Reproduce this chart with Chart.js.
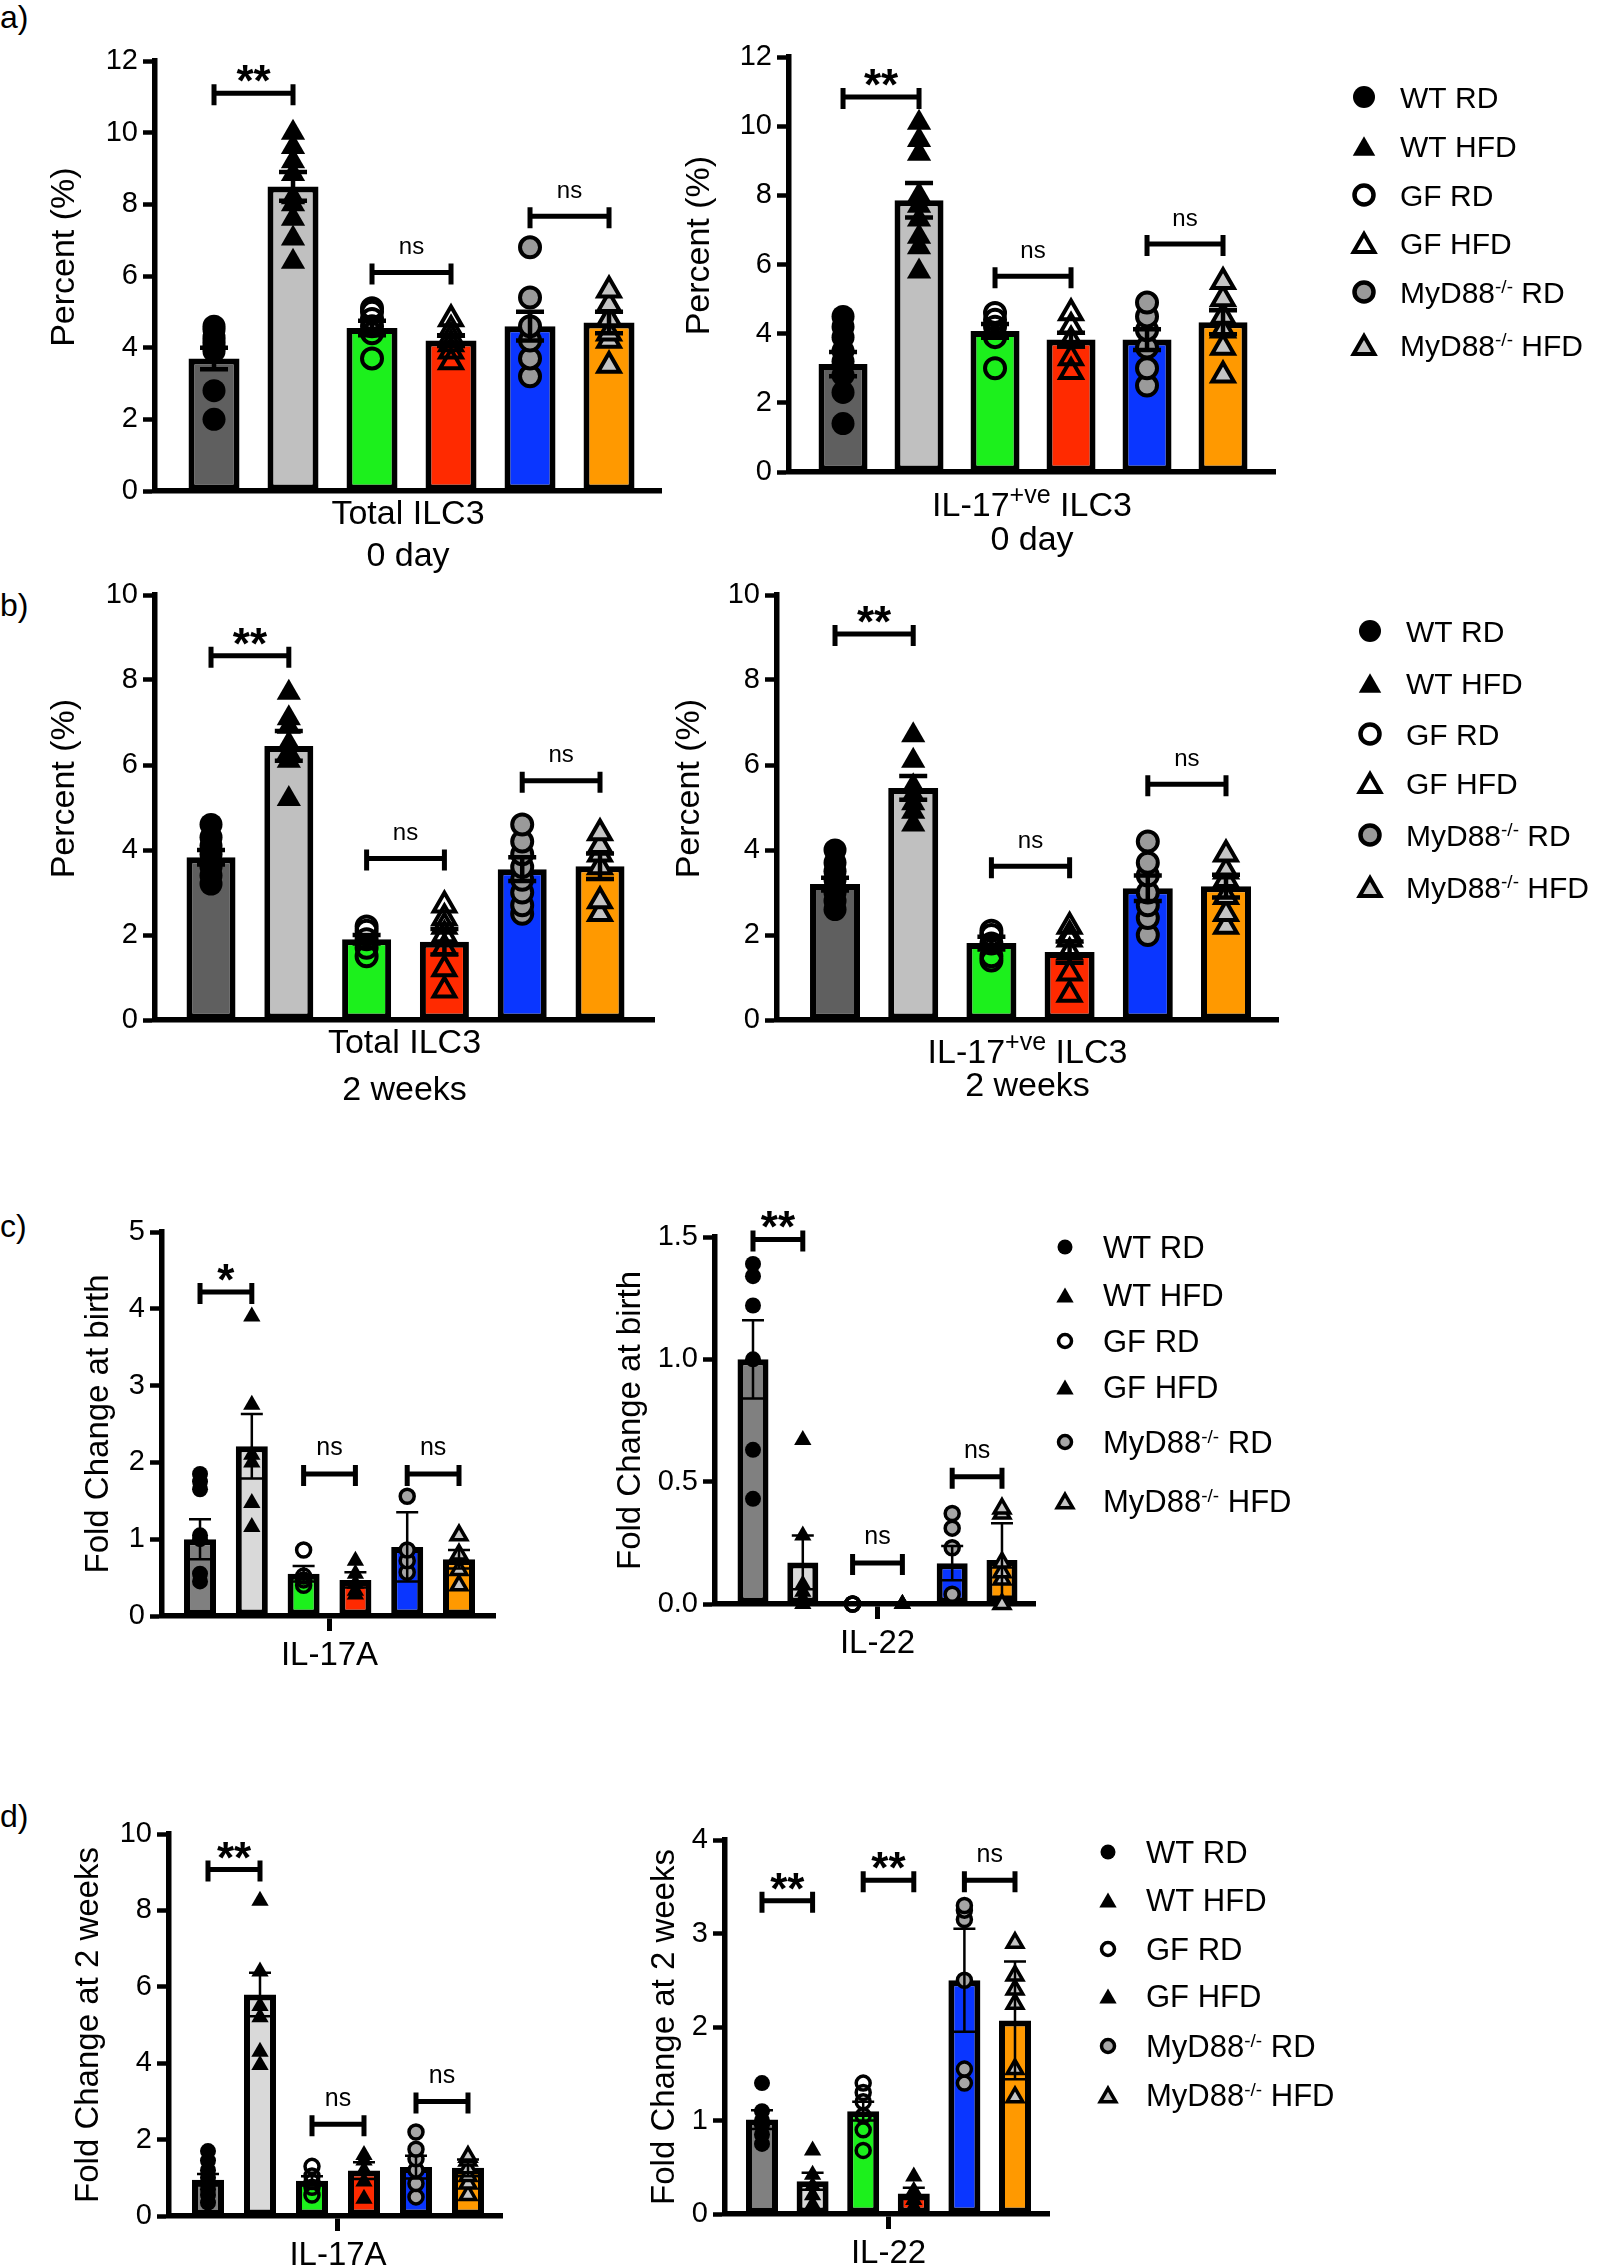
<!DOCTYPE html>
<html><head><meta charset="utf-8">
<script src="https://cdn.jsdelivr.net/npm/chart.js@4/dist/chart.umd.min.js"></script>
<style>
html,body{margin:0;padding:0;background:#fff;}
body{position:relative;width:1597px;height:2268px;overflow:hidden;font-family:'Liberation Sans',Arial,Helvetica,sans-serif;}
canvas{position:absolute;}
.pl{position:absolute;left:0;font-size:32px;line-height:32px;color:#000;}
</style></head><body>
<div class="pl" style="top:1px">a)</div>
<div class="pl" style="top:589px">b)</div>
<div class="pl" style="top:1210px">c)</div>
<div class="pl" style="top:1800px">d)</div>
<canvas id="a1"></canvas><canvas id="a2"></canvas>
<canvas id="b1"></canvas><canvas id="b2"></canvas>
<canvas id="c1"></canvas><canvas id="c2"></canvas>
<canvas id="d1"></canvas><canvas id="d2"></canvas>
<script>
// ---------------- DATA ----------------
const groups = ['WT RD', 'WT HFD', 'GF RD', 'GF HFD', 'MyD88-/- RD', 'MyD88-/- HFD'];
const legendParts = [['WT RD'], ['WT HFD'], ['GF RD'], ['GF HFD'], ['MyD88', '-/-', ' RD'], ['MyD88', '-/-', ' HFD']];

// a) 0 day
const a1Means = [3.7, 8.5, 4.55, 4.2, 4.6, 4.7];
const a1Sem = [0.3, 0.4, 0.2, 0.15, 0.4, 0.3];
const a1Points = [
  [2.0, 2.8, 3.9, 4.0, 4.1, 4.2, 4.3, 4.5, 4.6],
  [6.4, 7.05, 7.6, 8.0, 8.2, 8.85, 9.2, 9.6, 10.0],
  [3.7, 4.4, 4.6, 4.8, 5.0, 5.1],
  [3.6, 3.9, 4.1, 4.3, 4.5, 4.8],
  [3.2, 3.7, 4.2, 4.6, 5.4, 6.8],
  [3.5, 4.2, 4.4, 4.8, 5.2, 5.6]];
const a1Sig = [[0, 1, 11.1, '**'], [2, 3, 6.1, 'ns'], [4, 5, 7.67, 'ns']];
const a1XTitle = ['Total ILC3', '0 day'];

const a2Means = [3.12, 7.86, 4.08, 3.83, 3.83, 4.33];
const a2Sem = [0.35, 0.5, 0.2, 0.2, 0.3, 0.35];
const a2Points = [
  [1.4, 2.3, 2.8, 3.2, 3.5, 3.9, 4.2, 4.5],
  [5.8, 6.5, 6.8, 7.3, 7.7, 8.0, 9.2, 9.6, 10.1],
  [3.0, 3.9, 4.2, 4.4, 4.6],
  [2.9, 3.3, 3.8, 4.2, 4.6],
  [2.5, 3.0, 3.6, 4.1, 4.5, 4.9],
  [2.8, 3.6, 4.1, 4.5, 5.0, 5.5]];
const a2Sig = [[0, 1, 10.84, '**'], [2, 3, 5.66, 'ns'], [4, 5, 6.59, 'ns']];
const a2XTitle = [['IL-17', '+ve', ' ILC3'], ['0 day']];

// b) 2 weeks
const b1Means = [3.83, 6.45, 1.9, 1.84, 3.55, 3.62];
const b1Sem = [0.17, 0.35, 0.1, 0.3, 0.28, 0.3];
const b1Points = [
  [3.2, 3.4, 3.6, 3.7, 3.9, 4.1, 4.3, 4.6],
  [5.2, 6.1, 6.3, 6.5, 6.9, 7.1, 7.7],
  [1.5, 1.7, 1.9, 2.1, 2.2],
  [0.7, 1.2, 1.7, 2.0, 2.2, 2.4, 2.7],
  [2.5, 2.7, 3.0, 3.3, 3.6, 3.9, 4.2, 4.6],
  [2.5, 2.8, 3.6, 3.9, 4.1, 4.4]];
const b1Sig = [[0, 1, 8.57, '**'], [2, 3, 3.8, 'ns'], [4, 5, 5.63, 'ns']];
const b1XTitle = ['Total ILC3', '2 weeks'];

const b2Means = [3.2, 5.46, 1.81, 1.6, 3.1, 3.15];
const b2Sem = [0.15, 0.28, 0.15, 0.25, 0.3, 0.27];
const b2Points = [
  [2.6, 2.8, 3.0, 3.1, 3.3, 3.5, 3.7, 4.0],
  [4.6, 4.9, 5.1, 5.3, 5.5, 6.1, 6.7],
  [1.4, 1.5, 1.8, 2.0, 2.1],
  [0.6, 1.1, 1.6, 1.9, 2.0, 2.2],
  [2.0, 2.4, 2.7, 3.0, 3.4, 3.7, 4.2],
  [2.2, 2.5, 2.9, 3.3, 3.5, 3.9]];
const b2Sig = [[0, 1, 9.08, '**'], [2, 3, 3.62, 'ns'], [4, 5, 5.55, 'ns']];
const b2XTitle = [['IL-17', '+ve', ' ILC3'], ['2 weeks']];

// c) fold change at birth
const c1Means = [1.0, 2.21, 0.55, 0.47, 0.9, 0.74];
const c1Sem = [0.26, 0.42, 0.1, 0.1, 0.45, 0.12];
const c1Points = [
  [0.45, 0.55, 1.0, 1.05, 1.65, 1.75, 1.85],
  [1.16, 1.47, 2.0, 2.1, 2.75, 3.9],
  [0.4, 0.47, 0.52, 0.86],
  [0.28, 0.33, 0.42, 0.55, 0.72],
  [0.57, 0.72, 0.86, 1.56],
  [0.4, 0.6, 0.8, 1.05]];
const c1Sig = [[0, 1, 4.22, '*'], [2, 3, 1.85, 'ns'], [4, 5, 1.85, 'ns']];
const c1XTick = 'IL-17A';

const c2Means = [1.0, 0.17, 0.0, 0.0, 0.167, 0.18];
const c2Sem = [0.16, 0.11, 0, 0, 0.07, 0.15];
const c2Points = [
  [0.43, 0.63, 1.0, 1.22, 1.34, 1.39],
  [0.0, 0.02, 0.05, 0.08, 0.28, 0.67],
  [0.0, 0.0, 0.0],
  [0.0, 0.0, 0.0],
  [0.04, 0.23, 0.31, 0.37],
  [0.0, 0.1, 0.13, 0.17, 0.37, 0.39]];
const c2Sig = [[0, 1, 1.49, '**'], [2, 3, 0.168, 'ns'], [4, 5, 0.52, 'ns']];
const c2XTick = 'IL-22';

// d) fold change at 2 weeks
const d1Means = [0.95, 5.8, 0.92, 1.19, 1.28, 1.26];
const d1Sem = [0.15, 0.57, 0.12, 0.22, 0.3, 0.22];
const d1Points = [
  [0.35, 0.55, 0.7, 0.85, 1.0, 1.2, 1.45, 1.7],
  [3.95, 4.3, 5.2, 5.5, 6.4, 8.25],
  [0.55, 0.75, 0.9, 1.05, 1.3],
  [0.45, 0.9, 1.2, 1.45, 1.6],
  [0.5, 0.85, 1.2, 1.5, 1.75, 2.2],
  [0.55, 0.85, 1.05, 1.25, 1.45, 1.55]];
const d1Sig = [[0, 1, 9.07, '**'], [2, 3, 2.4, 'ns'], [4, 5, 3.0, 'ns']];
const d1XTick = 'IL-17A';

const d2Means = [1.01, 0.35, 1.1, 0.22, 2.5, 2.07];
const d2Sem = [0.1, 0.09, 0.1, 0.06, 0.55, 0.63];
const d2Points = [
  [0.75, 0.85, 0.95, 1.0, 1.1, 1.4],
  [0.1, 0.2, 0.3, 0.42, 0.68],
  [0.68, 0.9, 1.05, 1.2, 1.3, 1.4],
  [0.08, 0.15, 0.25, 0.4],
  [1.4, 1.55, 2.5, 3.15, 3.25, 3.3],
  [1.25, 1.55, 2.25, 2.4, 2.55, 2.9]];
const d2Sig = [[0, 1, 3.35, '**'], [2, 3, 3.57, '**'], [4, 5, 3.57, 'ns']];
const d2XTick = 'IL-22';

// ---------------- STYLES ----------------
const FF = "'Liberation Sans', Arial, Helvetica, sans-serif";
Chart.defaults.font.family = FF;
Chart.defaults.color = '#000';

const colorsAB = ['#5f5f5f', '#c0c0c0', '#1cf01c', '#ff2a00', '#0a36ff', '#ff9900'];
const colorsCD = ['#808080', '#d9d9d9', '#1cf01c', '#ff2a00', '#0a36ff', '#ff9900'];
const NONE = 'rgba(0,0,0,0)';
const ptsAB = [
  {shape: 'circle', r: 11.5, fill: '#000', stroke: '#000', bw: 0},
  {shape: 'triangle', r: 14, fill: '#000', stroke: '#000', bw: 0},
  {shape: 'circle', r: 10, fill: NONE, stroke: '#000', bw: 4},
  {shape: 'triangle', r: 12.5, fill: NONE, stroke: '#000', bw: 4},
  {shape: 'circle', r: 10, fill: '#9a9a9a', stroke: '#000', bw: 4},
  {shape: 'triangle', r: 12.5, fill: '#c4c4c4', stroke: '#000', bw: 4}];
const ptsCD = [
  {shape: 'circle', r: 8, fill: '#000', stroke: '#000', bw: 0},
  {shape: 'triangle', r: 10, fill: '#000', stroke: '#000', bw: 0},
  {shape: 'circle', r: 7, fill: NONE, stroke: '#000', bw: 3.5},
  {shape: 'triangle', r: 10, fill: '#000', stroke: '#000', bw: 0},
  {shape: 'circle', r: 7, fill: '#a6a6a6', stroke: '#000', bw: 3.5},
  {shape: 'triangle', r: 9, fill: '#c4c4c4', stroke: '#000', bw: 3.5}];
const legAB = [
  {shape: 'circle', r: 11, fill: '#000', stroke: '#000', bw: 0},
  {shape: 'triangle', r: 13, fill: '#000', stroke: '#000', bw: 0},
  {shape: 'circle', r: 9.5, fill: NONE, stroke: '#000', bw: 4.5},
  {shape: 'triangle', r: 12, fill: NONE, stroke: '#000', bw: 4},
  {shape: 'circle', r: 9.5, fill: '#9a9a9a', stroke: '#000', bw: 4.5},
  {shape: 'triangle', r: 12, fill: '#c4c4c4', stroke: '#000', bw: 4}];
const legCD = [
  {shape: 'circle', r: 7.5, fill: '#000', stroke: '#000', bw: 0},
  {shape: 'triangle', r: 10, fill: '#000', stroke: '#000', bw: 0},
  {shape: 'circle', r: 6.5, fill: NONE, stroke: '#000', bw: 3.5},
  {shape: 'triangle', r: 10, fill: '#000', stroke: '#000', bw: 0},
  {shape: 'circle', r: 6.5, fill: '#a6a6a6', stroke: '#000', bw: 3.5},
  {shape: 'triangle', r: 9, fill: '#c4c4c4', stroke: '#000', bw: 3.5}];

function drawMarker(ctx, st, x, y) {
  ctx.beginPath();
  if (st.shape === 'circle') {
    ctx.arc(x, y, st.r, 0, Math.PI * 2);
  } else {
    for (let k = 0; k < 3; k++) {
      const a = k * 2 * Math.PI / 3;
      const px = x + Math.sin(a) * st.r, py = y - Math.cos(a) * st.r;
      if (k) ctx.lineTo(px, py); else ctx.moveTo(px, py);
    }
    ctx.closePath();
  }
  ctx.fillStyle = st.fill; ctx.fill();
  if (st.bw) { ctx.lineWidth = st.bw; ctx.strokeStyle = st.stroke; ctx.stroke(); }
}

function drawParts(ctx, parts, x, baseY, size, supSize, rise, align) {
  const segs = parts.map((t, i) => {
    const sup = parts.length === 3 && i === 1;
    return {t, s: sup ? supSize : size, r: sup ? rise : 0};
  });
  let total = 0;
  segs.forEach(sg => { ctx.font = sg.s + 'px ' + FF; sg.w = ctx.measureText(sg.t).width; total += sg.w; });
  let cx = align === 'center' ? x - total / 2 : x;
  ctx.textAlign = 'left'; ctx.textBaseline = 'alphabetic'; ctx.fillStyle = '#000';
  segs.forEach(sg => { ctx.font = sg.s + 'px ' + FF; ctx.fillText(sg.t, cx, baseY - sg.r); cx += sg.w; });
}

const annot = {
  id: 'annot',
  afterDatasetsDraw(chart, args, o) {
    const ctx = chart.ctx, xs = chart.scales.x, ys = chart.scales.y;
    ctx.save();
    ctx.strokeStyle = '#000'; ctx.fillStyle = '#000'; ctx.lineCap = 'butt';
    o.means.forEach((m, i) => {
      const e = o.sem[i]; if (!e) return;
      const x = xs.getPixelForValue(i);
      const yHi = ys.getPixelForValue(m + e), yLo = ys.getPixelForValue(Math.max(0, m - e));
      ctx.lineWidth = o.errW;
      ctx.beginPath();
      ctx.moveTo(x, yHi); ctx.lineTo(x, yLo);
      ctx.moveTo(x - o.capW / 2, yHi); ctx.lineTo(x + o.capW / 2, yHi);
      if (m - e > 0) { ctx.moveTo(x - o.capW / 2, yLo); ctx.lineTo(x + o.capW / 2, yLo); }
      ctx.stroke();
    });
    o.sig.forEach(([a, b, v, t]) => {
      const xa = xs.getPixelForValue(a), xb = xs.getPixelForValue(b), y = ys.getPixelForValue(v);
      ctx.lineWidth = 5;
      ctx.beginPath();
      ctx.moveTo(xa, y); ctx.lineTo(xb, y);
      ctx.moveTo(xa, y - 9); ctx.lineTo(xa, y + 12);
      ctx.moveTo(xb, y - 9); ctx.lineTo(xb, y + 12);
      ctx.stroke();
      const star = t.indexOf('*') >= 0;
      ctx.font = star ? 'bold 44px ' + FF : o.nsSize + 'px ' + FF;
      ctx.textAlign = 'center'; ctx.textBaseline = 'alphabetic';
      ctx.fillText(t, (xa + xb) / 2, star ? y + 3 : y - 18.5);
    });
    ctx.restore();
  },
  afterDraw(chart, args, o) {
    const ctx = chart.ctx, ca = chart.chartArea;
    ctx.save();
    if (o.xlab) {
      const cx = (ca.left + ca.right) / 2;
      o.xlab.lines.forEach((parts, k) => {
        drawParts(ctx, parts, cx, ca.bottom + o.xlab.dy[k] + 0.358 * 34, 34, 25, 13, 'center');
      });
    }
    if (o.legend) {
      const lg = o.legend;
      legendParts.forEach((parts, i) => {
        const y = lg.ys[i] - o.origin[1];
        const st = lg.styles[i];
        drawMarker(ctx, st, lg.mx - o.origin[0], y + (st.shape === 'triangle' ? st.r / 4 : 0));
        drawParts(ctx, parts, lg.tx - o.origin[0], y + 0.358 * lg.size, lg.size, 19, 10, 'left');
      });
    }
    ctx.restore();
  }
};

function makeChart(id, g, d) {
  const cv = document.getElementById(id);
  const W = g.R - g.L, H = g.B - g.T;
  cv.width = W; cv.height = H;
  cv.style.left = g.L + 'px'; cv.style.top = g.T + 'px';
  cv.style.width = W + 'px'; cv.style.height = H + 'px';
  const Wy = g.x0 - g.L, Hx = g.B - g.yBot;

  const datasets = [{
    type: 'bar', label: 'mean',
    data: d.means.map((m, i) => ({x: i, y: m})),
    backgroundColor: d.colors, borderColor: '#000', borderWidth: 6, borderSkipped: false,
    barThickness: d.barW, order: 2, inflateAmount: 0
  }];
  d.points.forEach((arr, i) => {
    const st = d.pts[i];
    datasets.push({
      type: 'scatter', label: groups[i],
      data: arr.map(v => ({x: i, y: v})),
      pointStyle: st.shape, pointRadius: st.r,
      pointBackgroundColor: st.fill, pointBorderColor: st.stroke, pointBorderWidth: st.bw,
      order: 1, clip: false
    });
  });

  const xScale = {
    type: 'linear', min: g.xmin, max: g.xmax, offset: false,
    afterFit: s => { s.height = Hx; },
    border: {display: true, width: 5.5, color: '#000'},
    grid: {display: !!d.xTick, offset: false, drawOnChartArea: false, drawTicks: true, tickLength: 15, tickWidth: 5, tickColor: '#000'},
    ticks: {display: !!d.xTick, font: {size: 33}, padding: 5, color: '#000', maxRotation: 0, autoSkip: false,
      callback: () => d.xTick},
    title: d.xTitle ? {display: true, text: d.xTitle, font: {size: 34, lineHeight: d.xTitleLH}, padding: {top: 0, bottom: 0}, color: '#000'} : {display: false}
  };
  if (d.xTick) xScale.afterBuildTicks = s => { s.ticks = [{value: 2.5}]; };

  const yScale = {
    type: 'linear', min: 0, max: d.yMax,
    afterFit: s => { s.width = Wy; },
    border: {display: true, width: 5.5, color: '#000'},
    grid: {display: true, drawOnChartArea: false, drawTicks: true, tickLength: 12, tickWidth: 4.5, tickColor: '#000'},
    ticks: {stepSize: d.yStep, font: {size: 29}, padding: 5, color: '#000',
      callback: v => d.yDec ? Number(v).toFixed(d.yDec) : String(v)},
    title: {display: true, text: d.yTitle, font: {size: d.yTitleSize, lineHeight: 1.2},
      padding: {top: (g.tx - g.L) - d.yTitleSize * 0.6, bottom: 0}, color: '#000'}
  };

  new Chart(cv, {
    type: 'bar',
    data: {datasets},
    options: {
      responsive: false, animation: false, devicePixelRatio: 1, events: [],
      layout: {autoPadding: false, padding: {top: g.yTop - g.T, right: g.R - g.x1, left: 0, bottom: 0}},
      plugins: {
        legend: {display: false}, tooltip: {enabled: false},
        annot: {means: d.means, sem: d.sem, sig: d.sig, errW: d.errW, capW: d.capW, nsSize: d.nsSize,
          xlab: d.xlab || null, legend: d.legend || null, origin: [g.L, g.T]}
      },
      scales: {x: xScale, y: yScale}
    },
    plugins: [annot]
  });
}

const AB = {colors: colorsAB, pts: ptsAB, errW: 4.5, capW: 28, nsSize: 24, yTitleSize: 34, yTitle: '    Percent (%)'};
const CD = {colors: colorsCD, pts: ptsCD, errW: 2.5, capW: 22, nsSize: 25, yTitleSize: 33};

makeChart('a1', {x0: 155, x1: 661, yTop: 61, yBot: 491, xmin: -0.747, xmax: 5.658, L: 40, T: 20, R: 671, B: 578, tx: 65},
  Object.assign({}, AB, {means: a1Means, sem: a1Sem, points: a1Points, sig: a1Sig, yMax: 12, yStep: 2, barW: 51,
    xTitle: a1XTitle, xTitleLH: 1.24}));
makeChart('a2', {x0: 789, x1: 1275, yTop: 57, yBot: 472, xmin: -0.711, xmax: 5.684, L: 675, T: 20, R: 1597, B: 600, tx: 700},
  Object.assign({}, AB, {means: a2Means, sem: a2Sem, points: a2Points, sig: a2Sig, yMax: 12, yStep: 2, barW: 49,
    xlab: {lines: a2XTitle, dy: [31.7, 66]},
    legend: {mx: 1364, tx: 1400, ys: [97, 146, 195, 243, 292, 345], size: 30, styles: legAB}}));
makeChart('b1', {x0: 155, x1: 654, yTop: 595, yBot: 1020, xmin: -0.72, xmax: 5.694, L: 40, T: 570, R: 665, B: 1114, tx: 65},
  Object.assign({}, AB, {means: b1Means, sem: b1Sem, points: b1Points, sig: b1Sig, yMax: 10, yStep: 2, barW: 49,
    xTitle: b1XTitle, xTitleLH: 1.38}));
makeChart('b2', {x0: 777, x1: 1278, yTop: 595, yBot: 1020, xmin: -0.742, xmax: 5.665, L: 665, T: 570, R: 1597, B: 1120, tx: 690},
  Object.assign({}, AB, {means: b2Means, sem: b2Sem, points: b2Points, sig: b2Sig, yMax: 10, yStep: 2, barW: 50,
    xlab: {lines: b2XTitle, dy: [31, 64]},
    legend: {mx: 1370, tx: 1406, ys: [631, 683, 734, 783, 835, 887], size: 30, styles: legAB}}));
makeChart('c1', {x0: 162, x1: 495, yTop: 1232, yBot: 1616, xmin: -0.734, xmax: 5.695, L: 74, T: 1195, R: 520, B: 1690, tx: 99},
  Object.assign({}, CD, {means: c1Means, sem: c1Sem, points: c1Points, sig: c1Sig, yMax: 5, yStep: 1, barW: 32,
    yTitle: 'Fold Change at birth', xTick: c1XTick}));
makeChart('c2', {x0: 715, x1: 1035, yTop: 1237, yBot: 1604, xmin: -0.763, xmax: 5.663, L: 606, T: 1190, R: 1597, B: 1680, tx: 631},
  Object.assign({}, CD, {means: c2Means, sem: c2Sem, points: c2Points, sig: c2Sig, yMax: 1.5, yStep: 0.5, yDec: 1, barW: 31,
    yTitle: 'Fold Change at birth', xTick: c2XTick,
    legend: {mx: 1065, tx: 1103, ys: [1247, 1295, 1341, 1387, 1442, 1501], size: 31, styles: legCD}}));
makeChart('d1', {x0: 169, x1: 502, yTop: 1834, yBot: 2216, xmin: -0.75, xmax: 5.654, L: 64, T: 1795, R: 530, B: 2268, tx: 89},
  Object.assign({}, CD, {means: d1Means, sem: d1Sem, points: d1Points, sig: d1Sig, yMax: 10, yStep: 2, barW: 32,
    yTitle: 'Fold Change at 2 weeks', xTick: d1XTick}));
makeChart('d2', {x0: 725, x1: 1049, yTop: 1840, yBot: 2214, xmin: -0.731, xmax: 5.672, L: 640, T: 1800, R: 1597, B: 2268, tx: 665},
  Object.assign({}, CD, {means: d2Means, sem: d2Sem, points: d2Points, sig: d2Sig, yMax: 4, yStep: 1, barW: 32,
    yTitle: 'Fold Change at 2 weeks', xTick: d2XTick,
    legend: {mx: 1108, tx: 1146, ys: [1852, 1900, 1949, 1996, 2046, 2095], size: 31, styles: legCD}}));
</script>
</body></html>
